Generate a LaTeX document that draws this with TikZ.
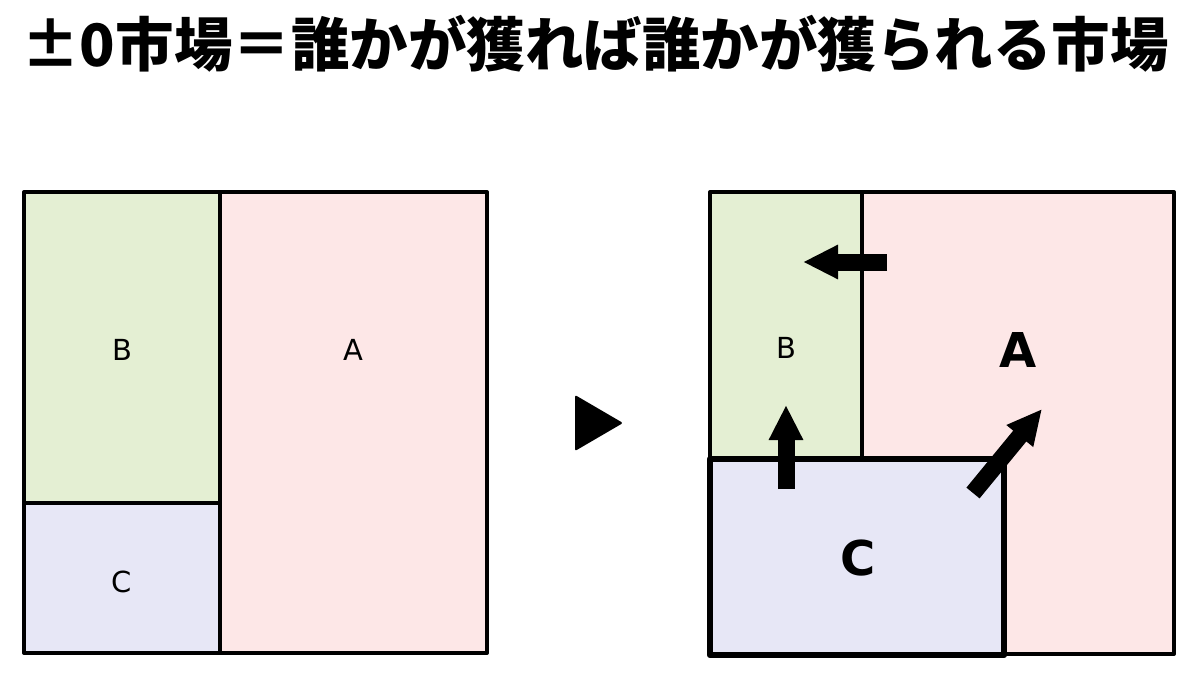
\documentclass[tikz,border=0pt]{standalone}
\usepackage{fontspec}
\usepackage{tikz}
\usetikzlibrary{arrows.meta}
\newfontfamily\jpfont{Noto Sans CJK JP}
\newfontfamily\labelfont{DejaVu Sans}
\definecolor{pinkA}{RGB}{253,231,231}
\definecolor{greenB}{RGB}{228,239,211}
\definecolor{blueC}{RGB}{231,231,246}
\tikzstyle{thinbox} = [draw=black, line width=4pt, line join=round]
\tikzstyle{thickbox} = [draw=black, line width=6.5pt, line join=round]
\tikzstyle{plainlabel} = [font=\labelfont\fontsize{29}{32}\selectfont]
\tikzstyle{boldlabel} = [font=\labelfont\bfseries\fontsize{48}{52}\selectfont]
\tikzstyle{blockarrow} = [draw, line width=17pt, -{Triangle[length=35pt, width=32pt]}]

\begin{document}
\begin{tikzpicture}[x=1pt, y=-1pt]
    \useasboundingbox (0,0) rectangle (1200,682);
    % Title
    \node [font=\jpfont\bfseries\fontsize{58.5}{64}\selectfont] (title) at (595,44) {±0市場＝誰かが獲れば誰かが獲られる市場};
    % Left market
    \draw [thinbox, fill=pinkA] (220,192) rectangle (487,653);
    \draw [thinbox, fill=greenB] (24,192) rectangle (220,503);
    \draw [thinbox, fill=blueC] (24,503) rectangle (220,653);
    \node [plainlabel] (leftB) at (122,350) {B};
    \node [plainlabel] (leftA) at (353,350) {A};
    \node [plainlabel] (leftC) at (122,582) {C};
    % Middle marker
    \fill [rounded corners=2pt] (575,395) -- (623,423) -- (575,451) -- cycle;
    % Right market
    \draw [thinbox, fill=pinkA] (862,192) rectangle (1174,654);
    \draw [thinbox, fill=greenB] (710,192) rectangle (862,459);
    \draw [thickbox, fill=blueC] (710,459) rectangle (1004,655);
    \node [plainlabel] (rightB) at (786,348) {B};
    \node [boldlabel] (rightA) at (1018,350) {A};
    \node [boldlabel] (rightC) at (858,558) {C};
    % Arrows
    \coordinate (fromA) at (887,262);
    \coordinate (intoB) at (803,262);
    \coordinate (fromC) at (786,489);
    \coordinate (upB) at (786,405);
    \coordinate (fromCdiag) at (973,493);
    \coordinate (intoA) at (1042,409);
    \path [blockarrow] (fromA) -- (intoB);
    \path [blockarrow] (fromC) -- (upB);
    \path [blockarrow] (fromCdiag) -- (intoA);
\end{tikzpicture}
\end{document}
